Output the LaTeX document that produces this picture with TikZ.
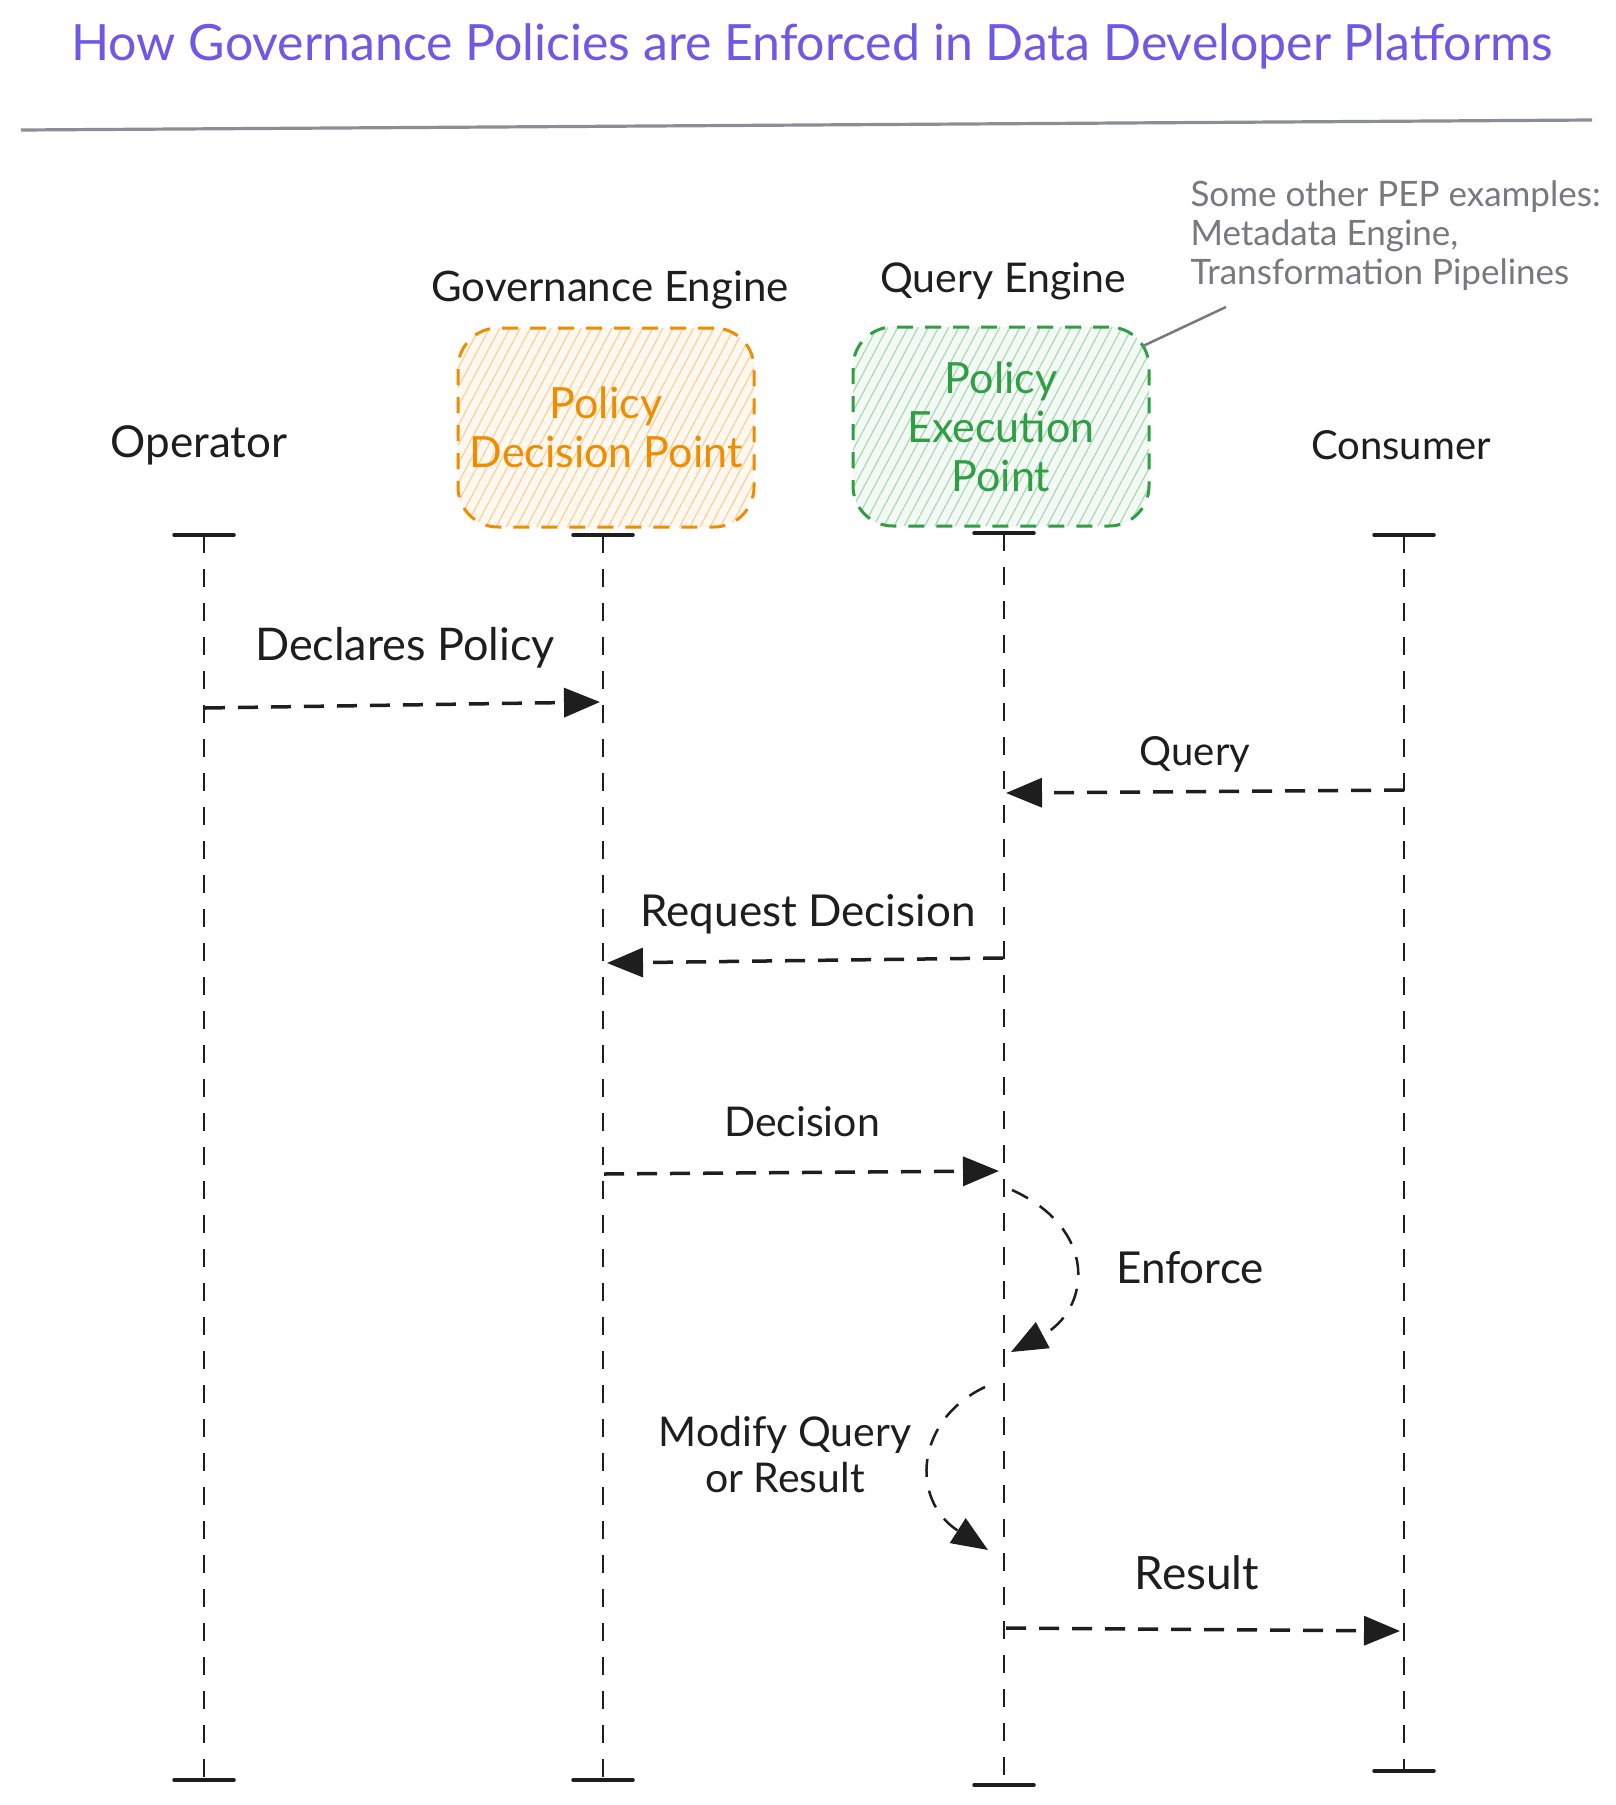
\documentclass[tikz,border=0pt]{standalone}
\usepackage{fontspec}
\setmainfont{Lato}
\usetikzlibrary{arrows.meta,patterns.meta}
\definecolor{titlec}{RGB}{112,88,230}
\definecolor{ruleg}{RGB}{140,142,150}
\definecolor{orangec}{RGB}{240,140,0}
\definecolor{greenc}{RGB}{47,158,68}
\definecolor{annotc}{RGB}{120,120,128}
\definecolor{inkc}{RGB}{30,30,30}
\newcommand\fsz[1]{\fontsize{#1}{#1}\selectfont}
\begin{document}
\begin{tikzpicture}[x=1pt,y=-1pt,
  actor/.style={text=inkc},
  msglabel/.style={text=inkc},
  lifeline/.style={draw=inkc, line width=2.2pt, dash pattern=on 18pt off 16pt},
  endbar/.style={draw=inkc, line width=3.5pt, line cap=round},
  msgarrow/.style={draw=inkc, line width=3.5pt, dash pattern=on 20pt off 13pt, -{Triangle[length=36pt,width=29pt]}},
  selfarrow/.style={draw=inkc, line width=2.5pt, dash pattern=on 18pt off 14pt, -{Triangle[length=36pt,width=29pt]}},
  rolebox/.style={rounded corners=40pt, line width=3pt, dash pattern=on 16pt off 12pt, minimum width=296pt, minimum height=199pt, align=center, font=\fontsize{43}{49}\selectfont}
]
\useasboundingbox (0,0) rectangle (1616,1805);
\fill[white] (0,0) rectangle (1616,1805);

% title
\node[text=titlec, font=\fsz{50}] (title) at (812,46) {How Governance Policies are Enforced in Data Developer Platforms};
\coordinate (ruleL) at (21,130);
\coordinate (ruleR) at (1592,120);
\draw[ruleg, line width=3.2pt] (ruleL) -- (ruleR);

% actors
\node[actor, font=\fsz{44}] (operator) at (199,445) {Operator};
\node[actor, font=\fsz{42}] (goveng) at (610,290) {Governance Engine};
\node[actor, font=\fsz{41}] (queryeng) at (1003,281) {Query Engine};
\node[actor, font=\fsz{40}] (consumer) at (1401,445) {Consumer};

% role boxes
\node[rolebox, draw=orangec, text=orangec, preaction={fill=orangec!6},
  pattern={Lines[angle=62,distance=9pt,line width=1.2pt]}, pattern color=orangec!40] (pdp) at (606,427.5) {Policy\\Decision Point};
\node[rolebox, draw=greenc, text=greenc, preaction={fill=greenc!6},
  pattern={Lines[angle=62,distance=9pt,line width=1.2pt]}, pattern color=greenc!40] (pep) at (1001,426.5) {Policy\\Execution\\Point};

% annotation
\node[anchor=west, align=left, text=annotc, font=\fontsize{35}{39}\selectfont] (annot) at (1187,236) {Some other PEP examples:\\Metadata Engine,\\Transformation Pipelines};
\coordinate (annA) at (1143,346);
\coordinate (annB) at (1226,307);
\draw[annotc, line width=2.5pt] (annA) -- (annB);

% lifelines
\coordinate (opT) at (204,535);  \coordinate (opB) at (204,1780);
\coordinate (gvT) at (603,535);  \coordinate (gvB) at (603,1780);
\coordinate (qeT) at (1004,533); \coordinate (qeB) at (1004,1785);
\coordinate (csT) at (1404,535); \coordinate (csB) at (1404,1771);
\foreach \t/\b in {opT/opB, gvT/gvB, qeT/qeB, csT/csB}{
  \draw[lifeline] (\t) -- (\b);
  \draw[endbar] ([xshift=-30pt]\t) -- ([xshift=30pt]\t);
  \draw[endbar] ([xshift=-30pt]\b) -- ([xshift=30pt]\b);
}

% messages
\coordinate (m1s) at (205,708);  \coordinate (m1e) at (600,702);
\draw[msgarrow] (m1s) -- (m1e);
\node[msglabel, font=\fsz{45}] (l1) at (405,648) {Declares Policy};

\coordinate (m2s) at (1404,790); \coordinate (m2e) at (1006,793);
\draw[msgarrow] (m2s) -- (m2e);
\node[msglabel, font=\fsz{40}] (l2) at (1195,754) {Query};

\coordinate (m3s) at (1003,958); \coordinate (m3e) at (607,963);
\draw[msgarrow] (m3s) -- (m3e);
\node[msglabel, font=\fsz{44}] (l3) at (808,914) {Request Decision};

\coordinate (m4s) at (604,1174); \coordinate (m4e) at (999,1171);
\draw[msgarrow] (m4s) -- (m4e);
\node[msglabel, font=\fsz{41}] (l4) at (802,1122) {Decision};

\coordinate (m5s) at (1012,1190); \coordinate (m5e) at (1011,1352);
\draw[selfarrow] (m5s) .. controls (1100,1230) and (1090,1310) .. (m5e);
\node[msglabel, font=\fsz{44}] (l5) at (1190,1268) {Enforce};

\coordinate (m6s) at (985,1387); \coordinate (m6e) at (988,1550);
\draw[selfarrow] (m6s) .. controls (915,1420) and (910,1500) .. (m6e);
\node[msglabel, align=center, font=\fontsize{41}{46}\selectfont] (l6) at (785,1455) {Modify Query\\or Result};

\coordinate (m7s) at (1006,1628); \coordinate (m7e) at (1400,1631);
\draw[msgarrow] (m7s) -- (m7e);
\node[msglabel, font=\fsz{46}] (l7) at (1197,1573) {Result};
\end{tikzpicture}
\end{document}
